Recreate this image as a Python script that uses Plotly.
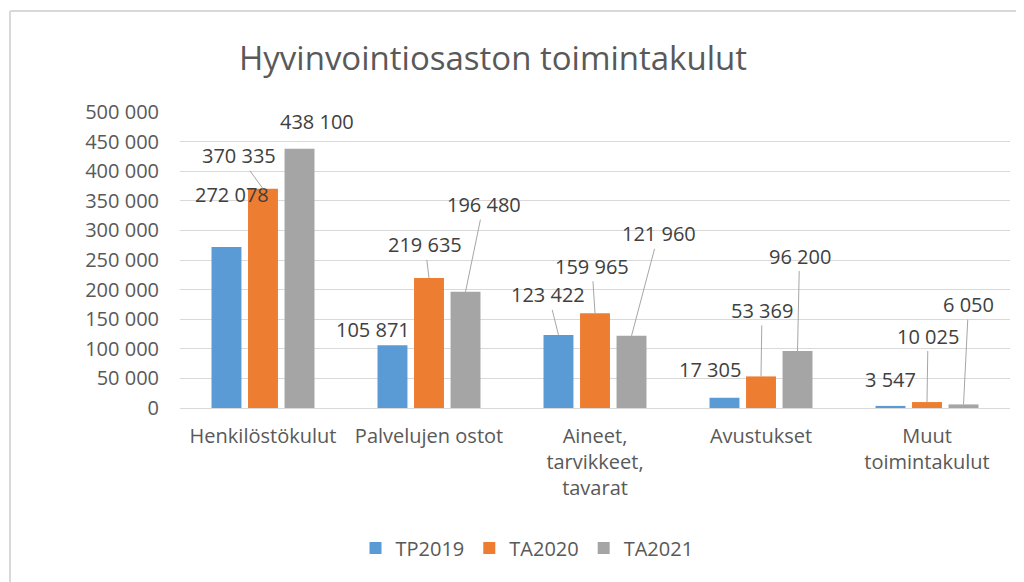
import plotly.graph_objects as go

categories = ["Henkilöstökulut", "Palvelujen ostot", "Aineet,<br>tarvikkeet,<br>tavarat",
              "Avustukset", "Muut<br>toimintakulut"]
series_names = ["TP2019", "TA2020", "TA2021"]
tp2019 = [272078, 105871, 123422, 17305, 3547]
ta2020 = [370335, 219635, 159965, 53369, 10025]
ta2021 = [438100, 196480, 121960, 96200, 6050]
colors = ["#5b9bd5", "#ed7d31", "#a5a5a5"]

# label placement (pixel offsets of label centre from bar top) and leader-line flag
label_offsets = [
    [(6, -52, False), (-19, -16, False), (-10, -40, True), (-14, -28, False), (0, -26, False)],
    [(-24, -33, True), (-4, -33, True), (-3, -47, True), (1, -66, True), (1, -66, True)],
    [(17, -27, False), (18, -87, True), (27, -102, True), (2, -95, True), (5, -100, True)],
]

W, H = 1024, 582
OFF = 8  # page body margin
# target page-pixel geometry of the plot area
PL, PR, PT, PB = 180, 1010, 112, 408
ML, MT = PL - OFF, PT - OFF
MR = W - (PR - OFF)
MB = H - (PB - OFF)
FONT = "Open Sans, sans-serif"
TXT = "#595959"
bargap, bargroupgap = 0.34, 0.18

fig = go.Figure()
all_series = [tp2019, ta2020, ta2021]
for name, vals, col in zip(series_names, all_series, colors):
    fig.add_trace(go.Bar(name=name, x=categories, y=vals, marker_color=col,
                         marker_line_width=0))

plot_w = PR - PL
plot_h = PB - PT
slot = plot_w / len(categories) * (1 - bargap) / 3

annotations = []
for si, vals in enumerate(all_series):
    shift = (si - 1) * slot
    for ci, v in enumerate(vals):
        dx, dy, leader = label_offsets[si][ci]
        txt = f"{v:,}".replace(",", " ")
        if leader:
            annotations.append(dict(x=categories[ci], y=v, xref="x", yref="y", text=txt,
                                    showarrow=True, arrowhead=0, arrowwidth=1,
                                    arrowcolor="#a6a6a6", ax=dx, ay=dy, xshift=shift,
                                    standoff=0, borderpad=1,
                                    font=dict(size=20, color="#404040", family=FONT)))
        else:
            annotations.append(dict(x=categories[ci], y=v, xref="x", yref="y", text=txt,
                                    showarrow=False, xshift=shift + dx, yshift=-dy,
                                    font=dict(size=20, color="#404040", family=FONT)))

# chart frame (page pixels -> paper coords)
px2x = lambda px: (px - PL) / plot_w
py2y = lambda py: (PB - py) / plot_h
shapes = [
    dict(type="line", xref="paper", yref="paper", x0=px2x(10), x1=px2x(1040),
         y0=py2y(11), y1=py2y(11), line=dict(color="#d9d9d9", width=2)),
    dict(type="line", xref="paper", yref="paper", x0=px2x(10), x1=px2x(10),
         y0=py2y(11), y1=py2y(600), line=dict(color="#d9d9d9", width=2)),
]

fig.update_layout(
    width=W, height=H,
    margin=dict(l=ML, r=MR, t=MT, b=MB),
    paper_bgcolor="white", plot_bgcolor="white",
    separators=". ",
    barmode="group", bargap=bargap, bargroupgap=bargroupgap,
    font=dict(family=FONT, color=TXT, size=20),
    title=dict(text="Hyvinvointiosaston toimintakulut", xref="container",
               x=(493 - OFF) / W, xanchor="center", yref="container",
               y=1 - (58 - OFF) / H, yanchor="middle",
               font=dict(size=33, color=TXT, family=FONT)),
    legend=dict(orientation="h", x=px2x(527), xanchor="center", y=py2y(548),
                yanchor="middle", font=dict(size=20, color=TXT), traceorder="normal",
                itemwidth=30),
    annotations=annotations,
    shapes=shapes,
)
fig.update_yaxes(range=[0, 500000], dtick=50000, tickformat=",d", showgrid=True,
                 gridcolor="#d9d9d9", gridwidth=1, zeroline=False, showline=False,
                 tickfont=dict(size=20, color=TXT), ticklabelstandoff=20)
fig.update_xaxes(showline=True, linecolor="#d9d9d9", linewidth=1, showgrid=False,
                 tickfont=dict(size=20, color=TXT), ticklabelstandoff=10)

fig.write_html("out.html")
